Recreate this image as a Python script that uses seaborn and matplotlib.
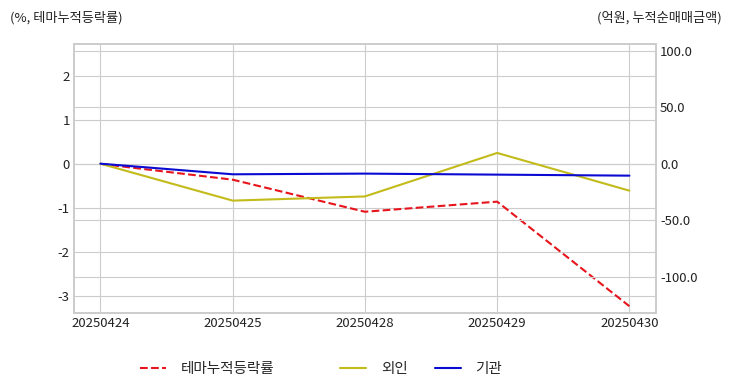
import numpy as np
import pandas as pd
import seaborn as sns
import matplotlib.pyplot as plt

dates = ["20250424", "20250425", "20250428", "20250429", "20250430"]
theme_ret = [0.0, -0.36, -1.09, -0.86, -3.24]      # %, left axis
foreign = [0.0, -32.7, -29.0, 9.5, -23.9]          # 억원, right axis
institution = [0.0, -9.4, -8.8, -9.7, -10.6]       # 억원, right axis

sns.set_style("whitegrid")
plt.rcParams['font.family'] = ['Noto Sans CJK KR', 'DejaVu Sans']
plt.rcParams['axes.unicode_minus'] = False

df = pd.DataFrame({"date": dates, "theme": theme_ret, "foreign": foreign, "inst": institution})

fig, ax = plt.subplots(figsize=(7.32, 3.92), dpi=100)
fig.subplots_adjust(left=0.101, right=0.896, top=0.888, bottom=0.202)

sns.lineplot(data=df, x="date", y="theme", color="#e8141c", linestyle="--", lw=1.5,
             label="테마누적등락률", ax=ax, legend=False)
ax2 = ax.twinx()
sns.lineplot(data=df, x="date", y="foreign", color="#c2bb1a", lw=1.5, label="외인", ax=ax2, legend=False)
sns.lineplot(data=df, x="date", y="inst", color="#0a0ad2", lw=1.5, label="기관", ax=ax2, legend=False)

ax.set_xlim(-0.2, 4.2)
ax.set_ylim(-3.39, 2.73)
ax.set_yticks([-3, -2, -1, 0, 1, 2])
ax2.set_ylim(-132, 106)
ax2.set_yticks([-100, -50, 0, 50, 100])
ax2.set_yticklabels([f"{v:.1f}" for v in [-100, -50, 0, 50, 100]])
for a in (ax, ax2):
    a.set_xlabel("")
    a.set_ylabel("")
    a.tick_params(labelsize=9.5, colors="#222222", length=0, pad=3)
    for s in a.spines.values():
        s.set_color("#cccccc")
        s.set_linewidth(1.2)
ax2.grid(True, color="#cccccc", lw=0.8)
ax2.xaxis.grid(False)
ax.grid(True, color="#cccccc", lw=0.8)

fig.text(0.013, 0.955, "(%, 테마누적등락률)", fontsize=9.5, color="#222222", ha="left", va="center")
fig.text(0.986, 0.955, "(억원, 누적순매매금액)", fontsize=9.5, color="#222222", ha="right", va="center")

h1, l1 = ax.get_legend_handles_labels()
h2, l2 = ax2.get_legend_handles_labels()
leg_kw = dict(frameon=False, fontsize=10.5, handlelength=1.8, handletextpad=1.0,
              borderpad=0, borderaxespad=0)
fig.legend(h1, l1, loc="center left", bbox_to_anchor=(0.191, 0.058), ncol=1, **leg_kw)
fig.legend(h2, l2, loc="center left", bbox_to_anchor=(0.4645, 0.058), ncol=2,
           columnspacing=1.85, **leg_kw)

fig.savefig("out.png", dpi=100)
